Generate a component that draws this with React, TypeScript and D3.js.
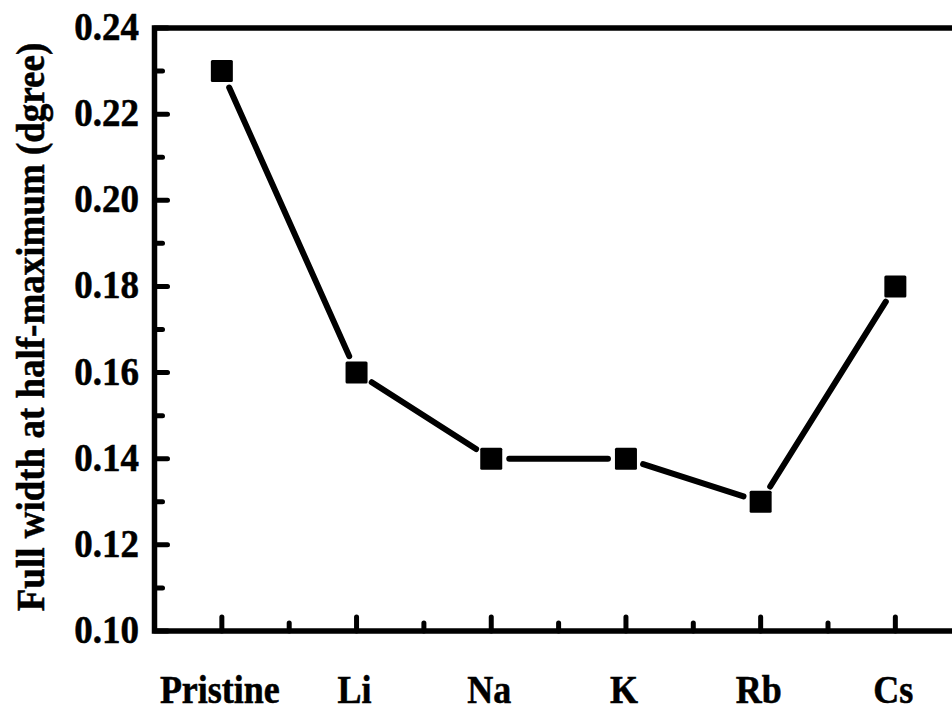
import React from "react";
import * as d3 from "d3";

const categories = ["Pristine", "Li", "Na", "K", "Rb", "Cs"];
const fwhmValues = [0.23, 0.16, 0.14, 0.14, 0.13, 0.18];
const yTickValues = [0.1, 0.12, 0.14, 0.16, 0.18, 0.2, 0.22, 0.24];
const yTickLabels = ["0.10", "0.12", "0.14", "0.16", "0.18", "0.20", "0.22", "0.24"];
const yMinorValues = [0.11, 0.13, 0.15, 0.17, 0.19, 0.21, 0.23];
const yTitle = "Full width at half-maximum (dgree)";

const W = 952;
const H = 711;
const left = 154.5;
const top = 28;
const bottom = 631;
const step = 134.7;
const right = left + step * categories.length;
const FONT = "'Liberation Serif', 'Times New Roman', serif";
const SY = 1.09;

export default function App() {
  const x = d3.scaleBand<string>().domain(categories).range([left, right]).paddingInner(0).paddingOuter(0);
  const y = d3.scaleLinear().domain([0.1, 0.24]).range([bottom, top]);
  const cx = (c: string) => (x(c) as number) + x.bandwidth() / 2;

  const pts = categories.map((c, i) => [cx(c), y(fwhmValues[i])] as [number, number]);
  const gap = 18;
  const segs = pts.slice(1).map((p, i) => {
    const a = pts[i];
    const dx = p[0] - a[0];
    const dy = p[1] - a[1];
    const len = Math.hypot(dx, dy);
    const ux = dx / len;
    const uy = dy / len;
    return [
      [a[0] + ux * gap, a[1] + uy * gap],
      [p[0] - ux * gap, p[1] - uy * gap],
    ] as [number, number][];
  });
  const lineGen = d3.line();
  const xMinor = categories.slice(1).map((c) => x(c) as number);
  const ms = 22;

  return (
    <svg width={W} height={H} style={{ position: "absolute", left: 0, top: 0 }} fontFamily={FONT}>
      <rect x={0} y={0} width={W} height={H} fill="#fff" />
      {/* frame */}
      <rect x={left} y={top} width={right - left} height={bottom - top} fill="none" stroke="#000" strokeWidth={5.5} />
      {/* y ticks */}
      {yTickValues.map((v) => (
        <line key={"ym" + v} x1={left} x2={left + 13} y1={y(v)} y2={y(v)} stroke="#000" strokeWidth={5} strokeLinecap="round" />
      ))}
      {yMinorValues.map((v) => (
        <line key={"yn" + v} x1={left} x2={left + 8} y1={y(v)} y2={y(v)} stroke="#000" strokeWidth={5} strokeLinecap="round" />
      ))}
      {/* x ticks */}
      {categories.map((c) => (
        <line key={"xm" + c} x1={cx(c)} x2={cx(c)} y1={bottom} y2={bottom - 14} stroke="#000" strokeWidth={5} strokeLinecap="round" />
      ))}
      {xMinor.map((v) => (
        <line key={"xn" + v} x1={v} x2={v} y1={bottom} y2={bottom - 8} stroke="#000" strokeWidth={5} strokeLinecap="round" />
      ))}
      {/* y tick labels */}
      {yTickValues.map((v, i) => (
        <text
          key={"yl" + v}
          transform={`translate(139, ${y(v) + 12}) scale(1, ${SY})`}
          textAnchor="end"
          fontSize={37}
          fontWeight="bold"
          fill="#000"
          stroke="#000"
          strokeWidth={0.5}
        >
          {yTickLabels[i]}
        </text>
      ))}
      {/* x tick labels */}
      {categories.map((c) => (
        <text
          key={"xl" + c}
          transform={`translate(${cx(c) - 2}, 703) scale(1, ${SY})`}
          textAnchor="middle"
          fontSize={36}
          fontWeight="bold"
          fill="#000"
          stroke="#000"
          strokeWidth={0.5}
        >
          {c}
        </text>
      ))}
      {/* y title */}
      <text
        transform={`translate(44, 327) rotate(-90) scale(1, ${SY})`}
        textAnchor="middle"
        fontSize={37}
        fontWeight="bold"
        fill="#000"
        stroke="#000"
        strokeWidth={0.5}
      >
        {yTitle}
      </text>
      {/* line segments */}
      {segs.map((s, i) => (
        <path key={"seg" + i} d={lineGen(s) as string} fill="none" stroke="#000" strokeWidth={6} strokeLinecap="round" />
      ))}
      {/* markers */}
      {pts.map((p, i) => (
        <rect key={"mk" + i} x={p[0] - ms / 2} y={p[1] - ms / 2} width={ms} height={ms} rx={1.5} fill="#000" />
      ))}
    </svg>
  );
}
